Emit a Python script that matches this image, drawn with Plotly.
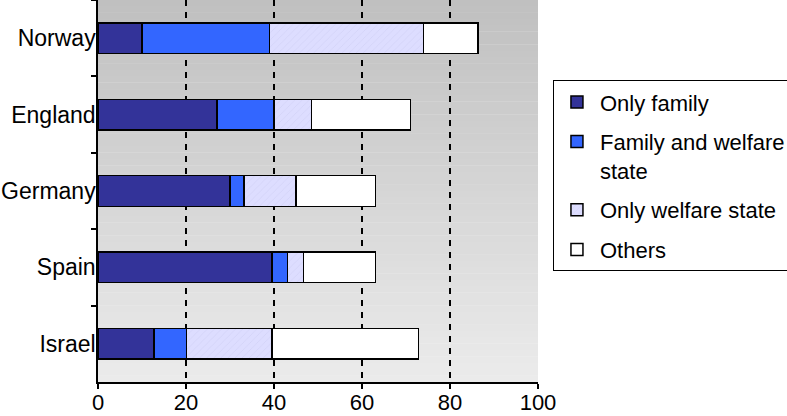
import plotly.graph_objects as go

countries = ["Norway", "England", "Germany", "Spain", "Israel"]
only_family = [10.0, 27.0, 30.0, 39.5, 12.7]
family_and_welfare = [29.0, 13.0, 3.2, 3.6, 7.4]
only_welfare = [35.0, 8.5, 11.8, 3.6, 19.4]
others = [12.4, 22.5, 18.1, 16.4, 33.3]

series_names = ["Only family", "Family and welfare<br>state", "Only welfare state", "Others"]
series_values = [only_family, family_and_welfare, only_welfare, others]
series_colors = ["#333399", "#3366FF", "#DDDDFF", "#FFFFFF"]
x_ticks = [0, 20, 40, 60, 80, 100]

FONT = "Liberation Sans, Arial, sans-serif"

fig = go.Figure()
for i, (name, vals, col) in enumerate(zip(series_names, series_values, series_colors)):
    marker = dict(color=col, line=dict(color="black", width=1.5))
    if i == 2:
        marker["pattern"] = dict(shape="/", fgcolor="#C9C9EE", bgcolor=col, size=5, solidity=0.15)
    fig.add_trace(go.Bar(
        y=countries, x=vals, name=name, orientation="h",
        marker=marker, legendgroup=f"g{i}",
    ))

# gradient background
n = 60
top = (192, 192, 192)
bot = (235, 235, 235)
shapes = []
for k in range(n):
    t = k / (n - 1)
    c = tuple(round(top[j] + (bot[j] - top[j]) * t) for j in range(3))
    shapes.append(dict(
        type="rect", xref="x domain", yref="y domain",
        x0=0, x1=1, y0=1 - (k + 1) / n, y1=1 - k / n + 0.001,
        fillcolor=f"rgb{c}", line=dict(width=0), layer="below",
    ))

fig.update_layout(
    width=787, height=416,
    margin=dict(l=98, r=249, t=0, b=34, autoexpand=False),
    barmode="stack", bargap=0.6,
    paper_bgcolor="white", plot_bgcolor="white",
    font=dict(family=FONT, size=22, color="black"),
    shapes=shapes,
    showlegend=True,
    legend=dict(
        x=1.034, xanchor="left", y=0.79, yanchor="top",
        bgcolor="white", bordercolor="black", borderwidth=1,
        traceorder="grouped", tracegroupgap=8, valign="top",
        itemwidth=36,
        font=dict(family=FONT, size=22, color="black"),
    ),
)
fig.update_xaxes(
    range=[0, 100], tickvals=x_ticks, ticktext=[str(v) for v in x_ticks],
    showline=True, linecolor="black", linewidth=1.5,
    ticks="outside", ticklen=5, tickwidth=1.5, tickcolor="black",
    showgrid=True, gridcolor="black", gridwidth=1.5, griddash="6px,6px",
    zeroline=False, automargin=False, ticklabelstandoff=-5,
    tickfont=dict(size=22),
)
fig.update_yaxes(
    autorange="reversed",
    showline=True, linecolor="black", linewidth=1.5,
    ticks="outside", ticklen=5, tickwidth=1.5, tickcolor="black",
    tickson="boundaries", showgrid=False, zeroline=False,
    automargin=False, ticklabelstandoff=-4,
    tickfont=dict(size=23),
)

fig.write_html(
    "out.html",
    config={"displayModeBar": False},
    post_script="document.body.style.margin='0';window.dispatchEvent(new Event('resize'));",
)
